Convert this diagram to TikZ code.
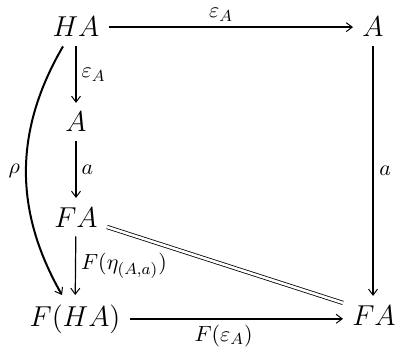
\documentclass[tikz,border=0pt]{standalone}
\usepackage{tikz}
\usetikzlibrary{arrows.meta}

\begin{document}
\begin{tikzpicture}[
x=0.5pt, y=-0.5pt,
obj/.style={anchor=base, inner sep=4.5pt, font=\Large},
arrow/.style={-{Straight Barb[length=3pt,width=4.5pt,line width=0.5pt]}},
lbl/.style={inner sep=2.5pt, font=\fontsize{11}{13}\selectfont}
]
\useasboundingbox (0,0) rectangle (395,347);
\node[obj] (ha) at (76,37) {$HA$};
\node[obj] (atop) at (373,37) {$A$};
\node[obj] (amid) at (76,132) {$A$};
\node[obj] (fal) at (76,227) {$FA$};
\node[obj] (fha) at (75,326) {$F(HA)$};
\node[obj] (far) at (374,325) {$FA$};

\draw[arrow, line width=1pt] (ha) -- node[lbl, above, pos=0.46]{$\varepsilon_A$} (atop);
\draw[arrow, line width=0.6pt] (ha) -- node[lbl, right]{$\varepsilon_A$} (amid);
\draw[arrow, line width=0.6pt] (amid) -- node[lbl, right]{$a$} (fal);
\draw[arrow, line width=0.6pt] (fal) -- node[lbl, right]{$F(\eta_{(A,a)})$} (fha);
\draw[arrow, line width=1.4pt] (atop) -- node[lbl, right]{$a$} (atop |- far.north);
\draw[arrow, line width=1.3pt] (fha) -- node[lbl, below, pos=0.44]{$F(\varepsilon_A)$} (fha -| far.west);
\draw[double, double distance=1.3pt, line width=0.4pt] (fal.base east) -- ([yshift=-3.5pt]far.north west);
\draw[arrow, line width=1pt] ([xshift=-6.5pt]ha.south) to[bend right=30] node[lbl, left]{$\rho$} ([xshift=-6.5pt]fha.north);
\end{tikzpicture}
\end{document}
